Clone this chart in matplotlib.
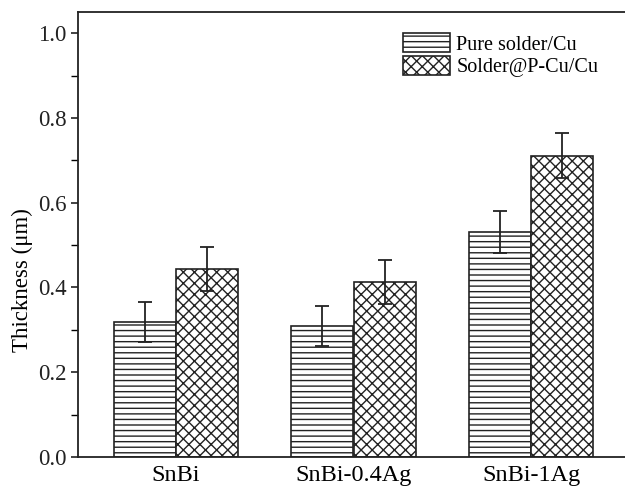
import matplotlib
matplotlib.use("Agg")
import matplotlib.pyplot as plt
import numpy as np
from matplotlib.ticker import MultipleLocator

categories = ["SnBi", "SnBi-0.4Ag", "SnBi-1Ag"]
series_names = ["Pure solder/Cu", "Solder@P-Cu/Cu"]
pure_vals = [0.318, 0.309, 0.531]
pure_err = [0.047, 0.048, 0.050]
pcu_vals = [0.444, 0.413, 0.711]
pcu_err = [0.052, 0.052, 0.053]

plt.rcParams['font.family'] = ['Liberation Serif', 'DejaVu Serif']
plt.rcParams['hatch.linewidth'] = 1.0

fig = plt.figure(figsize=(6.25, 4.91), dpi=100)
ax = fig.add_axes([78/625, 34/491, (629-78)/625, (457-12)/491])

x = np.arange(len(categories))
w = 0.35
ekw = dict(elinewidth=1.3, capthick=1.3, ecolor='#222222')
ax.bar(x - w/2, pure_vals, w, yerr=pure_err, capsize=5, color='white',
       edgecolor='#222222', linewidth=1.2, hatch='---', label=series_names[0], error_kw=ekw)
ax.bar(x + w/2, pcu_vals, w, yerr=pcu_err, capsize=5, color='white',
       edgecolor='#222222', linewidth=1.2, hatch='xxx', label=series_names[1], error_kw=ekw)

ax.set_xlim(-0.552, 2.552)
ax.set_ylim(0, 1.05)
ax.set_xticks(x)
ax.set_xticklabels(categories, fontsize=17.5)
ax.yaxis.set_major_locator(MultipleLocator(0.2))
ax.yaxis.set_minor_locator(MultipleLocator(0.1))
ax.tick_params(axis='y', which='major', direction='out', length=5, width=1.2, labelsize=16.5, colors='#222222', pad=3)
ax.tick_params(axis='y', which='minor', direction='out', length=5, width=1.0)
ax.tick_params(axis='x', length=0, pad=6)
ax.set_ylabel("Thickness (μm)", fontsize=16.5)
ax.yaxis.label.set_va('center')
ax.yaxis.set_label_coords((22-78)/551, (457-280)/445)
for s in ax.spines.values():
    s.set_linewidth(1.3)
    s.set_color('#222222')
ax.yaxis.set_major_formatter(matplotlib.ticker.FormatStrFormatter('%.1f'))

leg = ax.legend(loc='upper left', bbox_to_anchor=((403-78)/551, 1 - (33-12)/445),
                frameon=False, fontsize=14.5, handlelength=2.35, handleheight=1.1,
                labelspacing=0.05, handletextpad=0.3, borderaxespad=0, borderpad=0)

fig.savefig("out.png", dpi=100)
